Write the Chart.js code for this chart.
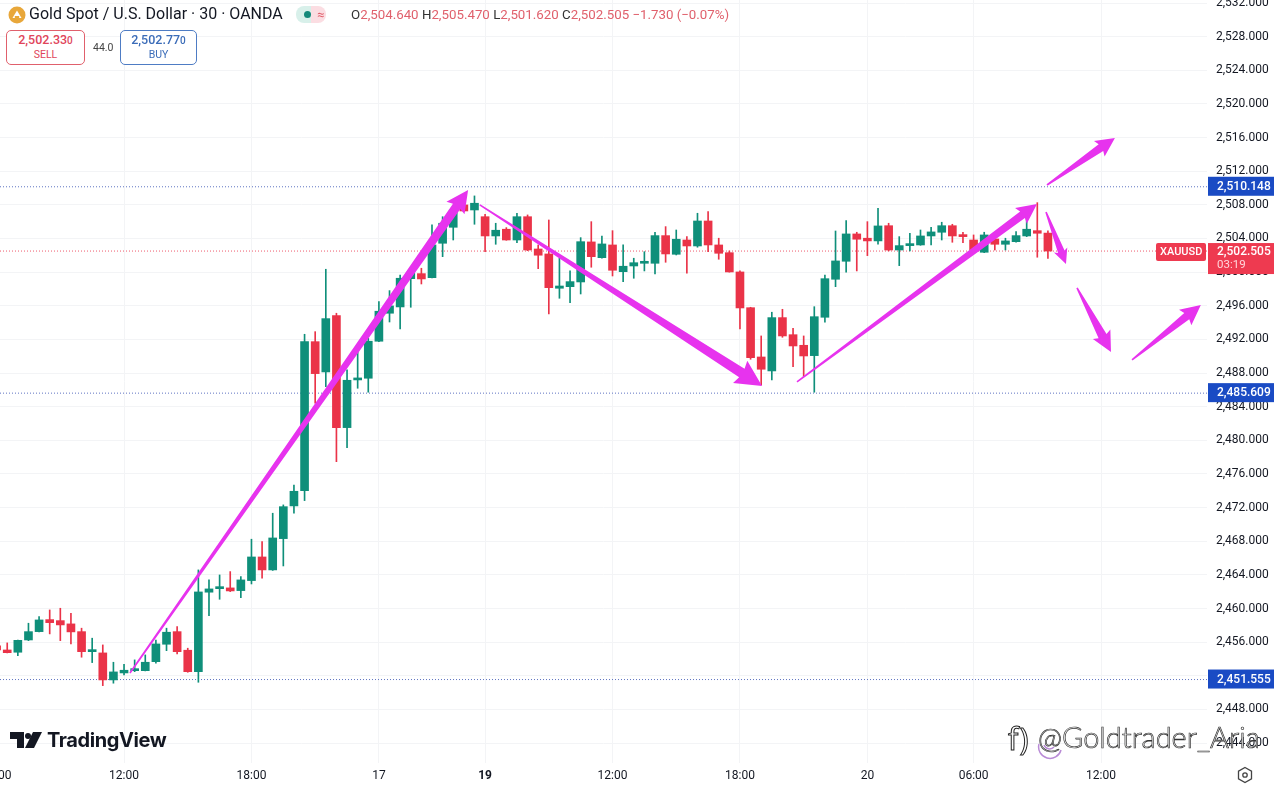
<!DOCTYPE html>
<html>
<head>
<meta charset="utf-8">
<title>Gold Spot / U.S. Dollar</title>
<script src="https://cdn.jsdelivr.net/npm/chart.js@4/dist/chart.umd.min.js"></script>
<style>
  html, body { margin: 0; padding: 0; background: #fff; overflow: hidden; }
  #wrap { position: relative; width: 1280px; height: 786px; font-family: Roboto, sans-serif; color: #131722; }
  #wrap canvas { position: absolute; left: 0; top: 0; }
  .abs { position: absolute; white-space: nowrap; }
  .box { position: absolute; top: 30px; height: 32px; border-radius: 5px; background: #fff; text-align: center; font-size: 12.5px; line-height: 15px; padding-top: 1px; box-sizing: content-box; }
  .box small { display: block; font-size: 10.5px; line-height: 13px; }
  .sell { left: 6px; width: 77px; border: 1px solid #e0606c; color: #e0455a; }
  .buy { left: 120px; width: 75px; border: 1px solid #4e7cc4; color: #3b6cb8; }
  .up { color: #e0606c; }
</style>
</head>
<body>
<div id="wrap">
  <canvas id="chart" width="1280" height="786"></canvas>

  <svg class="abs" style="left:8px;top:6px" width="18" height="18" viewBox="0 0 18 18">
    <circle cx="9" cy="9" r="8.5" fill="#e8a73a"/><path d="M9 4.5 L13.5 12 H4.5 Z" fill="#fff"/><path d="M6.8 10 H11.2 V12 H6.8 Z" fill="#e8a73a"/>
  </svg>
  <div class="abs" style="left:29px;top:5px;font-size:16px;line-height:18px">Gold Spot / U.S. Dollar · 30 · OANDA</div>
  <div class="abs" style="left:296px;top:6px;width:30px;height:17px;border-radius:8px;background:linear-gradient(90deg,#d8f0ea 50%,#fbdde2 50%)"></div>
  <div class="abs" style="left:304px;top:11px;width:7px;height:7px;border-radius:4px;background:#14897a"></div>
  <div class="abs" style="left:317px;top:6px;font-size:13px;line-height:17px;color:#e0606c">≈</div>
  <div class="abs" style="left:351px;top:7px;font-size:13.3px;line-height:15px;color:#333">O<span class="up">2,504.640</span> H<span class="up">2,505.470</span> L<span class="up">2,501.620</span> C<span class="up">2,502.505 −1.730 (−0.07%)</span></div>

  <div class="box sell"><b style="font-weight:500">2,502.33<span style="font-size:10px">0</span></b><small>SELL</small></div>
  <div class="abs" style="left:93px;top:41px;font-size:10.5px;color:#444">44.0</div>
  <div class="box buy"><b style="font-weight:500">2,502.77<span style="font-size:10px">0</span></b><small>BUY</small></div>

  <svg class="abs" style="left:10px;top:731px" width="32" height="18" viewBox="0 0 32 18">
    <path d="M0 1 H14 V17 H7 V8 H0 Z" fill="#131722"/><circle cx="18" cy="5" r="3" fill="#131722"/><path d="M23 1 H32 L24 17 H15 Z" fill="#131722"/>
  </svg>
  <div class="abs" style="left:47px;top:727px;font-size:20px;line-height:26px;font-weight:700;font-family:Inter,Roboto,sans-serif;letter-spacing:-0.4px;color:#131722">TradingView</div>

  <div class="abs" style="left:1008px;top:720px;font-size:30px;line-height:38px;font-family:'Noto Sans',sans-serif;color:#fff;-webkit-text-stroke:1px #222">f)</div>
  <div class="abs" style="left:1038px;top:718px;font-size:29px;line-height:38px;font-family:Lato,sans-serif;font-weight:300;color:#fff;-webkit-text-stroke:0.7px #333">@Goldtrader_Aria</div>
  <svg class="abs" style="left:1037px;top:736px" width="26" height="26" viewBox="0 0 26 26">
    <path d="M2 8 A11 11 0 0 0 24 14" fill="none" stroke="#b98bd6" stroke-width="1.5"/>
    <path d="M7 9 A6 6 0 0 0 17 11" fill="none" stroke="#b98bd6" stroke-width="1.5"/>
  </svg>
  <svg class="abs" style="left:1236px;top:766px" width="18" height="18" viewBox="0 0 18 18">
    <path d="M9 1.5 L15.5 5.2 V12.8 L9 16.5 L2.5 12.8 V5.2 Z" fill="none" stroke="#444" stroke-width="1.3"/><circle cx="9" cy="9" r="2.2" fill="none" stroke="#444" stroke-width="1.3"/>
  </svg>
</div>

<script>
// candle number of the first entry, 0 is the 12:00 candle of the 16th
const firstCandle = -12;

const opens = [
  2455.55, 2455.07, 2454.80, 2456.26, 2457.25, 2458.68, 2458.56, 2458.17, 2457.25, 2454.87,
  2454.72, 2451.51, 2452.34, 2452.61, 2452.61, 2453.68, 2455.75, 2457.25, 2455.04, 2452.49,
  2461.94, 2462.36, 2462.45, 2462.13, 2463.32, 2466.13, 2464.59, 2468.31, 2472.20, 2474.02,
  2491.73, 2488.13, 2494.82, 2481.51, 2487.18, 2487.38, 2491.78, 2495.11, 2495.86, 2499.22,
  2499.82, 2499.34, 2503.43, 2505.33, 2507.99, 2507.39, 2506.59, 2504.30, 2505.10, 2503.82,
  2506.59, 2502.75, 2502.16, 2498.08, 2498.27, 2498.83, 2503.59, 2501.72, 2503.23, 2500.05,
  2500.73, 2501.05, 2501.05, 2504.34, 2502.12, 2503.82, 2503.11, 2506.08, 2503.23, 2502.31,
  2500.02, 2495.77, 2489.91, 2488.25, 2494.59, 2492.56, 2491.30, 2490.07, 2494.63, 2499.15,
  2501.29, 2504.54, 2504.03, 2503.71, 2505.52, 2502.63, 2503.15, 2503.23, 2504.30, 2504.74,
  2505.52, 2504.38, 2503.82, 2502.36, 2503.94, 2503.31, 2503.62, 2504.30, 2504.93, 2504.64
];
const highs = [
  2455.91, 2455.91, 2456.26, 2458.25, 2459.03, 2459.83, 2460.03, 2459.44, 2457.66, 2456.47,
  2455.67, 2453.61, 2453.37, 2453.89, 2454.48, 2456.26, 2457.66, 2457.85, 2455.28, 2464.59,
  2463.40, 2463.99, 2464.39, 2463.79, 2468.24, 2467.95, 2471.33, 2472.32, 2474.69, 2492.61,
  2492.92, 2500.34, 2495.11, 2488.37, 2490.54, 2492.14, 2496.49, 2497.80, 2499.66, 2500.26,
  2500.46, 2505.61, 2506.59, 2507.78, 2508.58, 2509.06, 2506.88, 2505.81, 2505.29, 2507.00,
  2506.80, 2503.23, 2506.20, 2501.65, 2500.14, 2504.10, 2506.00, 2504.30, 2504.93, 2503.23,
  2501.65, 2502.43, 2504.74, 2505.41, 2505.01, 2504.22, 2507.00, 2507.19, 2504.03, 2502.52,
  2500.14, 2495.82, 2492.41, 2495.23, 2495.58, 2493.33, 2492.41, 2495.89, 2499.66, 2504.89,
  2506.12, 2504.74, 2506.00, 2507.59, 2505.81, 2504.22, 2504.62, 2505.01, 2505.33, 2505.93,
  2505.69, 2504.74, 2504.42, 2504.74, 2504.42, 2504.03, 2504.81, 2506.40, 2508.26, 2504.90
];
const lows = [
  2454.72, 2454.72, 2454.40, 2456.18, 2457.22, 2456.98, 2456.18, 2455.79, 2454.21, 2453.57,
  2450.83, 2451.12, 2452.10, 2452.49, 2452.58, 2453.49, 2454.99, 2454.60, 2452.42, 2451.23,
  2459.15, 2461.10, 2462.01, 2461.29, 2462.92, 2463.60, 2464.53, 2465.06, 2471.33, 2472.83,
  2484.41, 2486.38, 2477.46, 2479.13, 2486.19, 2485.72, 2491.73, 2494.07, 2493.24, 2495.82,
  2498.59, 2499.31, 2501.84, 2503.82, 2507.19, 2505.69, 2502.43, 2503.31, 2503.79, 2503.50,
  2502.55, 2500.41, 2495.03, 2496.89, 2496.37, 2497.40, 2500.58, 2501.65, 2499.54, 2498.87,
  2499.27, 2500.14, 2499.78, 2501.17, 2502.04, 2499.86, 2502.96, 2502.43, 2501.53, 2500.00,
  2493.24, 2489.64, 2486.58, 2487.18, 2492.25, 2488.76, 2487.57, 2485.72, 2494.04, 2498.27,
  2499.98, 2500.14, 2501.96, 2503.31, 2502.52, 2500.77, 2502.52, 2503.19, 2503.23, 2503.82,
  2503.55, 2503.50, 2502.55, 2502.31, 2502.63, 2502.63, 2503.55, 2504.22, 2501.77, 2501.62
];
const closes = [
  2455.07, 2454.75, 2456.22, 2457.25, 2458.64, 2458.32, 2458.05, 2457.22, 2454.87, 2454.96,
  2451.51, 2452.46, 2452.66, 2452.70, 2453.61, 2455.79, 2457.18, 2454.87, 2452.49, 2461.97,
  2462.33, 2462.45, 2462.09, 2463.40, 2466.13, 2464.59, 2468.39, 2472.11, 2473.94, 2491.73,
  2487.93, 2494.47, 2481.51, 2487.14, 2487.33, 2491.78, 2495.35, 2495.98, 2499.27, 2499.86,
  2499.19, 2503.23, 2505.81, 2507.39, 2507.27, 2508.19, 2504.30, 2504.98, 2503.82, 2506.59,
  2502.63, 2502.01, 2498.15, 2498.35, 2498.87, 2503.62, 2501.84, 2503.35, 2500.22, 2500.70,
  2501.12, 2501.21, 2504.34, 2502.16, 2503.91, 2503.11, 2506.08, 2503.23, 2502.24, 2500.02,
  2495.74, 2489.83, 2488.45, 2494.59, 2492.41, 2491.22, 2490.03, 2494.70, 2499.22, 2501.33,
  2504.54, 2503.91, 2503.71, 2505.49, 2502.63, 2503.15, 2503.31, 2504.30, 2504.78, 2505.52,
  2504.30, 2504.22, 2502.63, 2504.42, 2503.31, 2503.71, 2504.34, 2505.10, 2504.62, 2502.505
];

// time axis
const timeTicks = [-12, 0, 12, 24, 34, 46, 58, 70, 80, 92];
const timeLabels = ['06:00', '12:00', '18:00', '17', '19', '12:00', '18:00', '20', '06:00', '12:00'];

// price axis
const priceTicks = [2532, 2528, 2524, 2520, 2516, 2512, 2508, 2504, 2500, 2496, 2492, 2488, 2484,
  2480, 2476, 2472, 2468, 2464, 2460, 2456, 2452, 2448, 2444];

// dotted levels with their tag on the axis
const bluePrices = [2510.148, 2485.609, 2451.555];
const lastPrice = 2502.505;

// hand drawn arrows, candle number and price of both ends
const arrowFromX = [0.56, 33.5, 63.37, 86.91, 86.82, 89.74, 94.92];
const arrowFromY = [2452.34, 2507.99, 2486.94, 2510.36, 2507.15, 2498.12, 2489.56];
const arrowToX = [32.4, 60.08, 85.97, 93.31, 88.7, 92.94, 101.4];
const arrowToY = [2509.77, 2486.46, 2508.1, 2515.95, 2500.97, 2490.51, 2496.09];
const arrowWidths = [9, 10, 8, 8, 7, 9, 8];
const arrowHeads = [20, 24, 18, 17, 13, 18, 18];

const GREEN = '#0f8f7a';
const RED = '#ea3348';
const MAGENTA = '#e733ee';
const TEXT = '#131722';
const xMin = -11.68, xMax = 101.98;
const yMin = 2441.63, yMax = 2532.357;

const candleNo = opens.map((o, i) => firstCandle + i);
const colors = opens.map((o, i) => closes[i] >= o ? GREEN : RED);

function level(price) {
  return [{ x: xMin, y: price }, { x: xMax, y: price }];
}

function fmt(v) {
  return v.toLocaleString('en-US', { minimumFractionDigits: 3, maximumFractionDigits: 3 });
}

const arrowPlugin = {
  id: 'arrows',
  afterDatasetsDraw(chart) {
    const ctx = chart.ctx, sx = chart.scales.x, sy = chart.scales.y;
    ctx.save();
    ctx.fillStyle = MAGENTA;
    arrowFromX.forEach((fx, i) => {
      const x0 = sx.getPixelForValue(fx), y0 = sy.getPixelForValue(arrowFromY[i]);
      const x1 = sx.getPixelForValue(arrowToX[i]), y1 = sy.getPixelForValue(arrowToY[i]);
      const len = Math.hypot(x1 - x0, y1 - y0);
      const ux = (x1 - x0) / len, uy = (y1 - y0) / len;
      const nx = -uy, ny = ux;
      const w = arrowWidths[i] / 2, hl = arrowHeads[i], hw = hl * 0.55, t = 0.8;
      const bx = x1 - ux * hl, by = y1 - uy * hl;
      // thin tail that widens up to the head
      ctx.beginPath();
      ctx.moveTo(x0 + nx * t, y0 + ny * t);
      ctx.lineTo(bx + nx * w, by + ny * w);
      ctx.lineTo(bx + nx * hw - ux * 2, by + ny * hw - uy * 2);
      ctx.lineTo(x1, y1);
      ctx.lineTo(bx - nx * hw - ux * 2, by - ny * hw - uy * 2);
      ctx.lineTo(bx - nx * w, by - ny * w);
      ctx.lineTo(x0 - nx * t, y0 - ny * t);
      ctx.closePath();
      ctx.fill();
    });
    ctx.restore();
  }
};

const tagPlugin = {
  id: 'tags',
  afterDraw(chart) {
    const ctx = chart.ctx, sy = chart.scales.y;
    ctx.save();
    ctx.font = '500 12px Roboto';
    ctx.textBaseline = 'middle';
    bluePrices.forEach(p => {
      const y = sy.getPixelForValue(p);
      ctx.fillStyle = '#1a4bc4';
      ctx.fillRect(1208, y - 10, 66, 19);
      ctx.fillStyle = '#fff';
      ctx.fillText(fmt(p), 1217, y);
    });
    const y = sy.getPixelForValue(lastPrice);
    ctx.fillStyle = '#ee3a50';
    ctx.beginPath();
    ctx.roundRect(1156, y - 8, 50, 18, 2);
    ctx.fill();
    ctx.fillRect(1208, y - 8, 66, 31);
    ctx.fillStyle = '#fff';
    ctx.fillText(fmt(lastPrice), 1217, y + 1);
    ctx.font = '500 11px Roboto';
    ctx.fillText('XAUUSD', 1160, y + 1);
    ctx.font = '11.5px Roboto';
    ctx.fillStyle = '#ffd5da';
    ctx.fillText('03:19', 1217, y + 14);
    ctx.restore();
  }
};

new Chart(document.getElementById('chart').getContext('2d'), {
  type: 'bar',
  data: {
    datasets: [
      {
        label: 'body',
        data: candleNo.map((x, i) => ({ x: x, y: [opens[i], closes[i]] })),
        backgroundColor: colors,
        barThickness: 8,
        minBarLength: 2,
        grouped: false
      },
      {
        label: 'wick',
        data: candleNo.map((x, i) => ({ x: x, y: [lows[i], highs[i]] })),
        backgroundColor: colors,
        barThickness: 1,
        grouped: false
      },
      ...bluePrices.map(p => ({
        type: 'line',
        data: level(p),
        borderColor: '#5f74c2',
        borderWidth: 1,
        borderDash: [1, 2],
        pointRadius: 0
      })),
      {
        type: 'line',
        data: level(lastPrice),
        borderColor: '#ee5a6c',
        borderWidth: 1,
        borderDash: [1, 2],
        pointRadius: 0
      }
    ]
  },
  options: {
    responsive: false,
    animation: false,
    events: [],
    layout: { padding: 0 },
    plugins: { legend: { display: false }, tooltip: { enabled: false } },
    scales: {
      x: {
        type: 'linear',
        min: xMin,
        max: xMax,
        offset: false,
        border: { display: false },
        grid: { offset: false, color: '#f3f4f6', drawTicks: false },
        afterBuildTicks(scale) {
          scale.ticks = timeTicks.map(v => ({ value: v }));
        },
        afterFit(scale) {
          scale.height = 23;
          scale.paddingLeft = 0;
          scale.paddingRight = 0;
        },
        ticks: {
          autoSkip: false,
          maxRotation: 0,
          padding: 6,
          color: TEXT,
          font(c) {
            return c.tick && c.tick.value === 34
              ? { family: 'Roboto', size: 12, weight: '700' }
              : { family: 'Roboto', size: 12 };
          },
          callback(v) {
            return timeLabels[timeTicks.indexOf(v)];
          }
        }
      },
      y: {
        position: 'right',
        min: yMin,
        max: yMax,
        border: { display: false },
        grid: { color: '#f3f4f6', drawTicks: false },
        afterBuildTicks(scale) {
          scale.ticks = priceTicks.map(v => ({ value: v }));
        },
        afterFit(scale) {
          scale.width = 73;
          scale.paddingTop = 0;
          scale.paddingBottom = 0;
        },
        ticks: {
          autoSkip: false,
          padding: 9,
          color: TEXT,
          font: { family: 'Roboto', size: 12 },
          callback: v => fmt(v)
        }
      }
    }
  },
  plugins: [arrowPlugin, tagPlugin]
});
</script>
</body>
</html>
